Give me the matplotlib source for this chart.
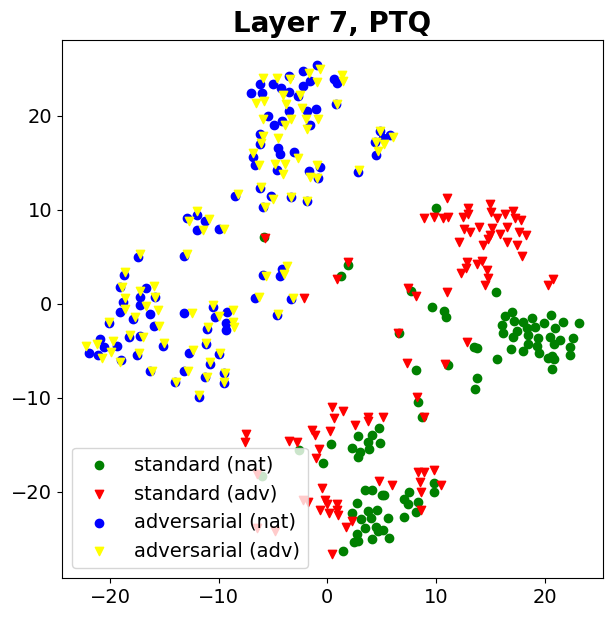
import matplotlib
matplotlib.use("Agg")
import matplotlib.pyplot as plt

# standard (nat) - green circles
std_nat_x = [-5.8, 1.93, 1.23, 7.67, 6.62, 10.0, 15.5,
             9.6, 10.7, 10.9, 13.5, 13.8, 8.16, 11.1, 13.8, 13.6, 8.37, 8.68, 15.6,
             16.35, 16.96, 16.1, 17.2, 16.15, 17.5, 17.1, 18.0, 18.8, 18.4, 19.1, 18.5,
             19.9, 20.6, 21.7, 23.2, 21.0, 19.4, 20.5, 21.4, 22.6, 18.5, 19.3, 20.9,
             16.9, 18.0, 19.5, 22.3, 22.3, 20.3, 20.9, 20.7, 20.7,
             -2.6, -6.0, 0.34, -0.37, 2.8, 2.3, 4.08, 4.75, 3.77, 4.85, 3.8, 3.0, 2.85,
             3.47, 4.14, 5.0, 5.24, 2.7, 2.3, 3.7, 4.55, 3.98, 3.14, 5.6, 3.47, 4.45,
             5.15, 2.7, 2.48, 2.85, 4.14, 4.64, 5.68, 1.47, 7.52, 7.08, 7.4, 8.3, 7.08,
             8.2, 9.85, 9.85]
std_nat_y = [7.07, 4.13, 2.96, 1.4, -3.14, 10.2, 1.22,
             -0.37, -0.73, -1.44, -4.56, -4.73, -7.04, -6.5, -7.93, -9.1, -10.5, -12.0, -5.9,
             -1.3, -0.84, -2.26, -1.8, -3.14, -2.86, -3.5, -1.9, -1.55, -2.6, -2.5, -3.32,
             -2.0, -1.19, -1.9, -2.0, -2.6, -3.67, -3.57, -3.85, -3.67, -4.28, -4.49, -4.28,
             -4.84, -4.98, -5.27, -4.63, -5.45, -5.8, -5.9, -5.55, -6.97,
             -15.55, -18.3, -14.95, -16.97, -14.1, -15.3, -14.0, -13.25, -14.7, -14.8, -15.45, -15.8, -16.3,
             -19.8, -19.8, -20.3, -20.3, -21.2, -22.3, -22.0, -21.9, -22.8, -22.9, -22.75, -23.9, -23.7,
             -24.1, -24.5, -25.3, -25.2, -25.0, -24.2, -24.95, -26.3, -20.0, -20.8, -21.3, -21.05, -22.65,
             -22.2, -19.1, -20.05]

# standard (adv) - red triangles
std_adv_x = [-5.7, -2.14, 1.93, 0.92, 7.45, 8.16, 6.53,
             11.05, 8.9, 9.8, 10.6, 11.1, 12.97, 12.97, 12.45, 12.57, 13.1, 12.15, 14.0,
             14.97, 15.1, 15.6, 16.35, 17.05, 17.3, 17.8, 16.55, 15.2, 15.0, 14.8, 15.9,
             14.3, 16.55, 17.6, 18.3, 17.5, 17.9, 12.9, 13.75, 14.2, 12.75, 12.3, 14.7,
             14.8, 14.5, 20.8, 20.3, 11.0,
             12.9, 7.36, 10.8, 8.28, 8.9,
             0.4, 1.47, 0.65, 3.77, 3.77, 5.15, 2.55, 0.25, -1.38, -1.13, -7.5, -7.57,
             -3.52, -2.82, -0.76, -1.07, -0.46, -1.75, -2.2, -0.21, -0.06, -0.67, 0.86,
             0.86, 0.16, 1.01, 1.69, 2.3, 0.4, 4.75, 5.98, 8.3, 8.9, 9.85, 8.5, 10.5,
             8.6, 8.6, -6.5, -6.5, -4.8]
std_adv_y = [6.97, 0.58, 4.48, 2.6, 1.65, 0.83, -3.07,
             11.2, 9.1, 9.27, 9.1, 9.2, 10.15, 9.6, 9.27, 7.96, 7.67, 6.54, 8.2,
             10.6, 9.73, 9.1, 9.6, 9.87, 9.1, 8.9, 8.2, 8.03, 7.3, 6.9, 7.4,
             6.26, 6.6, 7.67, 7.3, 6.2, 5.1, 4.4, 4.2, 4.55, 3.78, 3.24, 3.6,
             2.78, 2.0, 2.64, 2.0, 1.22,
             -4.03, -6.33, -6.4, -9.88, -12.0,
             -10.95, -11.4, -12.2, -12.0, -12.5, -12.0, -12.9, -13.5, -13.4, -13.96, -13.9, -14.67,
             -14.6, -14.7, -15.45, -16.4, -19.6, -21.1, -20.9, -20.9, -21.3, -21.9, -21.3,
             -21.9, -22.3, -22.5, -23.7, -23.1, -26.6, -18.85, -19.3, -17.9, -17.9, -17.7, -19.0, -19.3,
             -20.0, -21.9, -18.1, -23.9, -24.2]

# adversarial (nat) - blue circles
adv_nat_x = [-0.92, -2.2, -3.5, -1.6, -2.26, -4.97, -6.2, -4.3, -3.5, -7.05, -6.04,
             0.62, 0.86, -2.67, 0.8, -3.5, -1.84, -1.04, -5.5, -4.9, -4.2, -1.6, -6.2,
             -6.2, -4.5, -4.4, -3.1, -6.86, -6.65, -4.65, -1.66, -0.67, -0.83, 2.85,
             4.85, 5.77, 4.39, 5.1, 4.48, -8.5, -6.2, -5.2, -3.3, -1.9, -5.9,
             -12.9, -12.0, -11.25, -12.0, -9.94, -17.4, -13.2, -18.7, -19.1, -16.7, -17.2,
             -15.9, -18.8, -17.2, -19.1, -16.3, -17.9, -20.1, -16.0, -13.2, -10.5, -9.25,
             -10.3, -9.3, -9.3, -11.1, -20.9, -20.6, -19.4, -21.9, -21.1, -18.3, -17.2,
             -15.1, -19.0, -17.5, -16.3, -12.7, -11.2, -10.0, -13.2, -10.8, -11.25, -9.5,
             -9.5, -14.0, -11.8,
             -5.9, -4.2, -4.4, -6.65, -3.37, -4.6]
adv_nat_y = [25.4, 24.8, 24.2, 23.7, 23.2, 23.35, 23.35, 23.0, 22.5, 22.4, 22.4,
             23.9, 23.45, 22.1, 21.3, 20.5, 20.5, 20.7, 20.0, 19.0, 19.4, 19.0, 18.1,
             17.0, 16.6, 15.9, 16.1, 15.65, 14.8, 14.2, 14.1, 14.5, 13.35, 14.05,
             18.4, 17.95, 17.2, 17.6, 15.8, 11.5, 12.3, 11.5, 11.4, 10.9, 10.3,
             9.1, 9.45, 8.85, 7.9, 8.0, 4.95, 5.1, 3.06, 1.75, 1.65, 0.76,
             0.76, 0.22, -0.13, -0.84, -1.09, -1.65, -2.08, -2.36, -1.01, -0.31, -0.84,
             -1.44, -2.08, -2.79, -2.71, -3.78, -4.56, -4.49, -5.2, -5.45, -3.5, -3.43,
             -4.49, -5.98, -5.45, -7.1, -5.2, -4.28, -5.34, -7.1, -6.4, -7.75, -7.33,
             -8.4, -8.3, -9.9,
             3.06, 3.67, 2.96, 0.58, 0.48, -1.19]

# adversarial (adv) - yellow triangles
adv_adv_x = [-0.67, -1.66, 1.32, 1.42, -5.9, -4.6, -3.43, -0.92, -4.05, -2.5, -6.56,
             -5.8, -3.8, -2.36, 0.86, -5.94, -3.34, -1.96, -0.83, -3.9, -1.84, -5.9,
             -4.5, -6.13, 4.85, 6.0, 4.45, 5.2, 4.7, -6.86, -6.26, -4.8, -3.9, -2.67,
             -0.98, -4.1, -1.6, -0.92, 2.94, -8.2, -6.13, -4.97, -3.3, -1.9, -5.7,
             -12.0, -12.7, -10.85, -11.4, -9.5, -17.2, -12.9, -18.6, -18.9, -16.0, -17.2,
             -15.85, -18.6, -16.7, -18.6, -15.6, -17.7, -20.1, -15.5, -12.5, -10.5, -8.7,
             -10.0, -8.7, -8.6, -11.0, -22.2, -21.2, -19.7, -19.9, -20.75, -18.2, -17.0,
             -15.0, -19.1, -17.3, -16.15, -12.4, -11.2, -9.87, -12.8, -10.8, -11.1, -9.4,
             -9.5, -13.9, -11.8,
             -5.6, -3.73, -4.0, -6.25, -3.18, -4.5]
adv_adv_y = [25.0, 24.6, 24.3, 23.7, 24.0, 24.0, 23.9, 23.6, 22.2, 22.2, 21.4,
             21.6, 21.3, 20.8, 21.2, 19.7, 19.7, 19.7, 19.7, 19.0, 18.6, 17.9,
             17.6, 17.1, 18.4, 17.7, 17.2, 17.0, 16.2, 16.0, 14.8, 14.9, 14.9, 15.5,
             14.8, 13.8, 13.5, 13.35, 14.2, 11.65, 12.45, 11.15, 11.4, 10.9, 10.3,
             9.9, 8.85, 9.0, 7.9, 8.0, 5.3, 5.3, 3.4, 1.75, 1.9, 1.4,
             0.76, 0.58, -0.23, -0.59, -0.66, -1.37, -1.9, -2.36, -1.01, -0.13, -0.66,
             -1.3, -1.9, -2.5, -2.5, -4.49, -4.28, -3.92, -5.1, -5.8, -3.32, -3.5,
             -4.2, -6.16, -5.27, -7.1, -4.9, -4.13, -5.27, -7.1, -6.16, -7.8, -7.33,
             -8.3, -8.3, -9.7,
             2.96, 4.0, 3.17, 0.76, 0.58, -1.09]

title = "Layer 7, PTQ"
labels = ["standard (nat)", "standard (adv)", "adversarial (nat)", "adversarial (adv)"]

fig = plt.figure(figsize=(6.13, 6.18), dpi=100)
ax = fig.add_axes([0.101, 0.0647, 0.883, 0.8706])
ax.scatter(std_nat_x, std_nat_y, c="green", marker="o", label=labels[0])
ax.scatter(std_adv_x, std_adv_y, c="red", marker="v", label=labels[1])
ax.scatter(adv_nat_x, adv_nat_y, c="blue", marker="o", label=labels[2])
ax.scatter(adv_adv_x, adv_adv_y, c="yellow", marker="v", label=labels[3])
ax.set_xlim(-24.43, 25.39)
ax.set_ylim(-29.17, 28.06)
ax.set_xticks([-20, -10, 0, 10, 20])
ax.set_yticks([-20, -10, 0, 10, 20])
ax.tick_params(labelsize=14)
ax.set_title(title, fontsize=20, fontweight="bold")
ax.legend(loc="lower left", fontsize=14)
fig.savefig("out.png", dpi=100)
